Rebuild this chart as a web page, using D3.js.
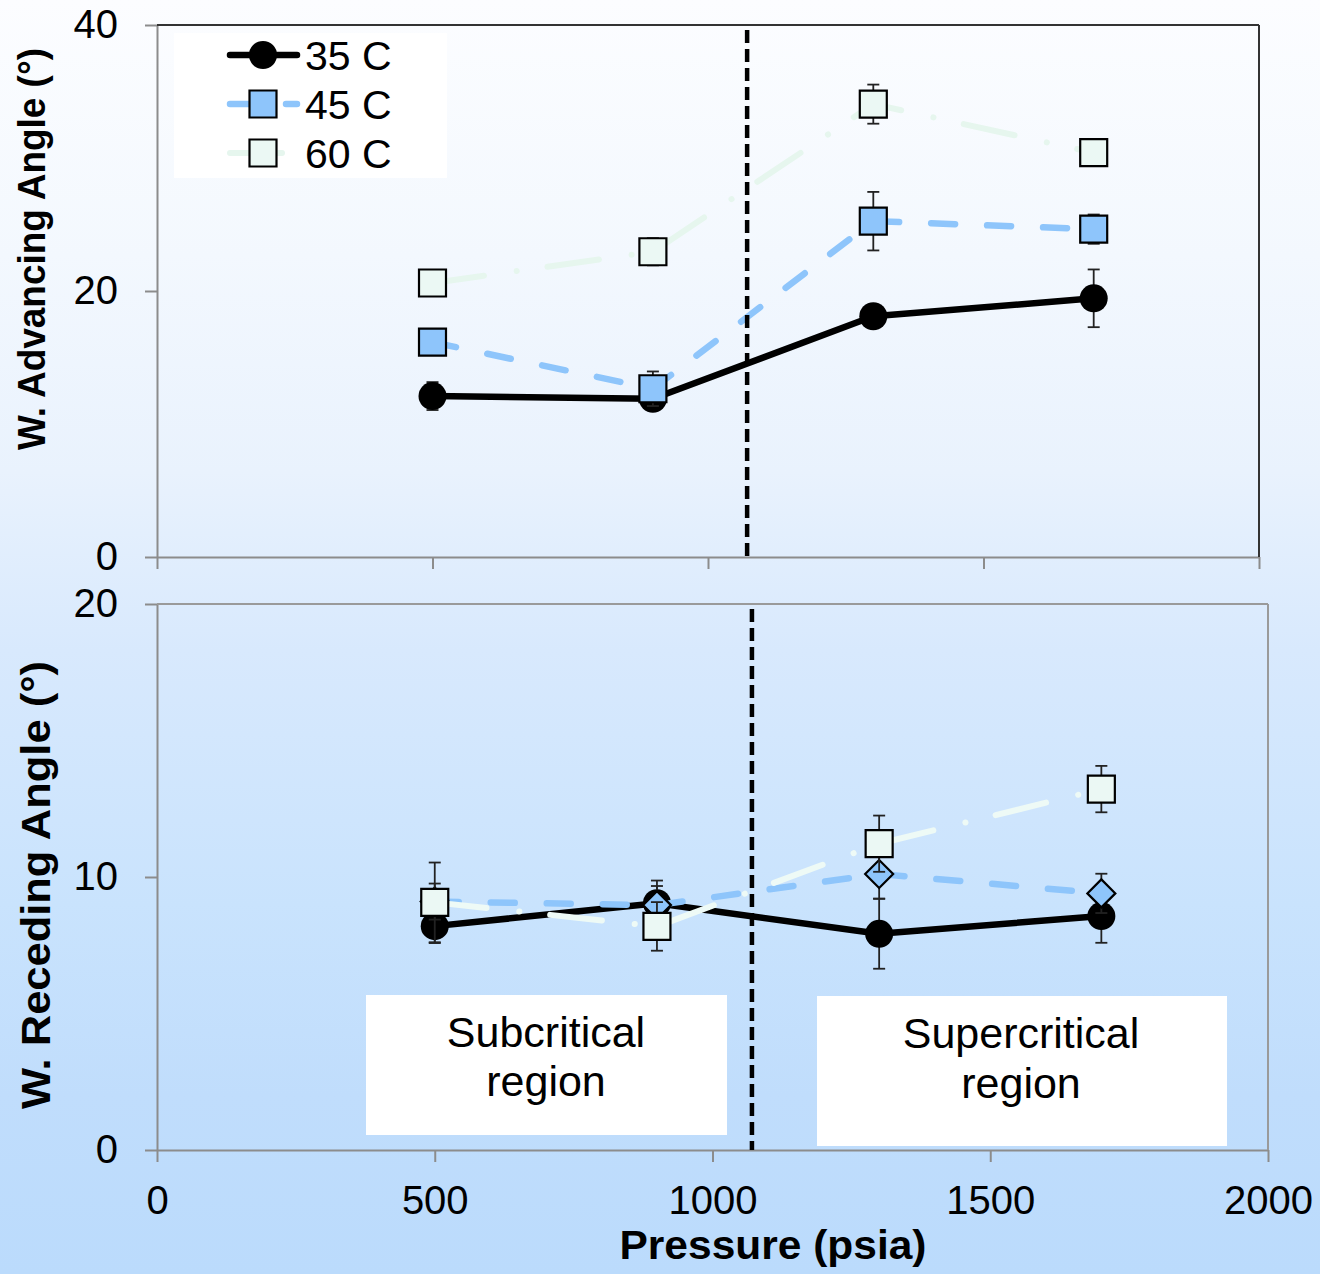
<!DOCTYPE html>
<html><head><meta charset="utf-8">
<script src="https://cdn.jsdelivr.net/npm/d3@7"></script>
<style>html,body{margin:0;padding:0;background:#fff}svg{display:block}</style>
</head><body><svg id="c" width="1320" height="1274"></svg>
<script>
// ---------- data ----------
const pressures = [500, 900, 1300, 1700];
const seriesNames = ["35 C", "45 C", "60 C"];
// Advancing angle (top panel)
const adv35 = [12.1, 11.9, 18.1, 19.45];
const adv35Err = [1.05, 0.4, 0.5, 2.17];
const adv45 = [16.15, 12.65, 25.25, 24.65];
const adv45Err = [0.5, 1.3, 2.2, 1.1];
const adv60 = [20.6, 22.95, 34.05, 30.4];
const adv60Err = [0.6, 1.02, 1.47, 0.6];
// Receding angle (bottom panel)
const rec35 = [8.2, 9.04, 7.92, 8.57];
const rec35Err = [0.62, 0.83, 1.28, 0.98];
const rec45 = [9.1, 8.97, 10.11, 9.4];
const rec45Err = [0.66, 0.7, 0.9, 0.72];
const rec60 = [9.07, 8.19, 11.22, 13.22];
const rec60Err = [1.46, 0.89, 1.03, 0.85];
const xTicks = [0, 500, 1000, 1500, 2000];
const advTicks = [0, 20, 40];
const recTicks = [0, 10, 20];
const criticalPressure = 1071;
const regionLabels = [["Subcritical", "region"], ["Supercritical", "region"]];
const xTitle = "Pressure (psia)";
const advTitle = "W. Advancing Angle (°)";
const recTitle = "W. Receding Angle (°)";

// ---------- styles ----------
const FONT = "'Liberation Sans', Arial, sans-serif";
const styles = [
  {line: "#000", fill: "#000", dash: null, marker: "circle", width: 6.5},
  {line: "#8ec5fb", fill: "#8ec5fb", dash: "24,32", marker: "square", markerBottom: "diamond", width: 6.5},
  {line: "#e6f6ee", lineBottom: "#eefaf6", fill: "#ebf8f4", dash: "52,33,0.1,31", marker: "square", width: 6}
];

const svg = d3.select("#c");
const defs = svg.append("defs");
const grad = defs.append("linearGradient").attr("id", "bg").attr("x1", 0).attr("y1", 0).attr("x2", 0).attr("y2", 1);
[[0, "#fcfdff"], [0.2, "#f3f8fe"], [0.37, "#e9f2fd"], [0.51, "#d8e9fd"], [0.71, "#c9e3fd"], [0.86, "#c0ddfc"], [1, "#bbdbfc"]]
  .forEach(([o, c]) => grad.append("stop").attr("offset", o).attr("stop-color", c));
svg.append("rect").attr("width", 1320).attr("height", 1274).attr("fill", "url(#bg)");

function markerPath(type) {
  if (type === "circle") return d3.symbol(d3.symbolCircle, Math.PI * 14 * 14)();
  if (type === "square") return "M-13.5,-13.5H13.5V13.5H-13.5Z";
  return "M0,-14L14,0L0,14L-14,0Z";
}

function panel(opts) {
  const {x, y, ticks, seriesVals, seriesErr, bottomPanel, borderColor} = opts;
  const g = svg.append("g");
  // axes
  const ya = d3.axisLeft(y).tickValues(ticks).tickFormat(d3.format("d")).tickSize(12).tickSizeOuter(0).tickPadding(27);
  const yg = g.append("g").attr("transform", `translate(${x.range()[0]},0)`).call(ya);
  const xa = d3.axisBottom(x).tickValues(xTicks).tickFormat(d3.format("d")).tickSize(12).tickSizeOuter(0).tickPadding(24);
  const xg = g.append("g").attr("transform", `translate(0,${y.range()[0]})`).call(xa);
  if (!bottomPanel) xg.selectAll("text").remove();
  [yg, xg].forEach(a => {
    a.select(".domain").attr("stroke", "#8c8c8c").attr("stroke-width", 2);
    a.selectAll(".tick line").attr("stroke", "#8c8c8c").attr("stroke-width", 2);
    a.selectAll("text").attr("font-family", FONT).attr("font-size", 40).attr("fill", "#000");
  });
  // frame top & right
  g.append("line").attr("x1", x.range()[0]).attr("x2", x.range()[1]).attr("y1", y.range()[1]).attr("y2", y.range()[1])
    .attr("stroke", borderColor).attr("stroke-width", 2);
  g.append("line").attr("x1", x.range()[1]).attr("x2", x.range()[1]).attr("y1", y.range()[1]).attr("y2", y.range()[0])
    .attr("stroke", borderColor).attr("stroke-width", 2);

  // region boxes (bottom panel only)
  if (bottomPanel) {
    const boxes = [
      {x0: 366, x1: 727, y0: 995, y1: 1135, cx: 546, b1: 1047, b2: 1096},
      {x0: 817, x1: 1227, y0: 996, y1: 1146, cx: 1021, b1: 1048, b2: 1098}
    ];
    boxes.forEach((b, i) => {
      g.append("rect").attr("x", b.x0).attr("y", b.y0).attr("width", b.x1 - b.x0).attr("height", b.y1 - b.y0).attr("fill", "#fff");
      g.append("text").attr("x", b.cx).attr("y", b.b1).attr("text-anchor", "middle").attr("font-family", FONT).attr("font-size", 43).text(regionLabels[i][0]);
      g.append("text").attr("x", b.cx).attr("y", b.b2).attr("text-anchor", "middle").attr("font-family", FONT).attr("font-size", 43).text(regionLabels[i][1]);
    });
  }

  // series
  const line = d3.line().x(d => x(d.p)).y(d => y(d.v));
  seriesVals.forEach((vals, si) => {
    const st = styles[si];
    const data = pressures.map((p, i) => ({p, v: vals[i], e: seriesErr[si][i]}));
    const lc = bottomPanel && st.lineBottom ? st.lineBottom : st.line;
    g.append("path").datum(data).attr("d", line).attr("fill", "none").attr("stroke", lc)
      .attr("stroke-width", st.width).attr("stroke-linecap", "round").attr("stroke-linejoin", "round")
      .attr("stroke-dasharray", st.dash);
    const eb = g.append("g").attr("stroke", "#222").attr("stroke-width", 1.8);
    data.forEach(d => {
      eb.append("line").attr("x1", x(d.p)).attr("x2", x(d.p)).attr("y1", y(d.v - d.e)).attr("y2", y(d.v + d.e));
      [d.v - d.e, d.v + d.e].forEach(v => eb.append("line").attr("x1", x(d.p) - 6).attr("x2", x(d.p) + 6).attr("y1", y(v)).attr("y2", y(v)));
    });
    const mt = bottomPanel && st.markerBottom ? st.markerBottom : st.marker;
    g.selectAll(null).data(data).enter().append("path")
      .attr("transform", d => `translate(${x(d.p)},${y(d.v)})`)
      .attr("d", markerPath(mt)).attr("fill", st.fill)
      .attr("stroke", mt === "circle" ? "none" : "#000").attr("stroke-width", 2.2);
  });

  // critical pressure line
  g.append("line").attr("x1", x(criticalPressure)).attr("x2", x(criticalPressure))
    .attr("y1", y.range()[1] + 5).attr("y2", y.range()[0])
    .attr("stroke", "#000").attr("stroke-width", 4.5).attr("stroke-dasharray", "13,6");
  return g;
}

const xTop = d3.scaleLinear().domain([0, 2000]).range([157, 1259]);
const yTop = d3.scaleLinear().domain([0, 40]).range([557, 25]);
const xBot = d3.scaleLinear().domain([0, 2000]).range([157, 1268]);
const yBot = d3.scaleLinear().domain([0, 20]).range([1150, 604]);

panel({x: xTop, y: yTop, ticks: advTicks, seriesVals: [adv35, adv45, adv60], seriesErr: [adv35Err, adv45Err, adv60Err], bottomPanel: false, borderColor: "#333"});
panel({x: xBot, y: yBot, ticks: recTicks, seriesVals: [rec35, rec45, rec60], seriesErr: [rec35Err, rec45Err, rec60Err], bottomPanel: true, borderColor: "#9a9a9a"});

// legend
const lg = svg.append("g");
lg.append("rect").attr("x", 174).attr("y", 33).attr("width", 273).attr("height", 145).attr("fill", "#fff");
seriesNames.forEach((name, i) => {
  const st = styles[i];
  const cy = 55 + i * 49;
  lg.append("line").attr("x1", 230).attr("x2", 297).attr("y1", cy).attr("y2", cy)
    .attr("stroke", st.line).attr("stroke-width", st.width).attr("stroke-linecap", "round")
    .attr("stroke-dasharray", st.dash);
  lg.append("path").attr("transform", `translate(263,${cy})`).attr("d", markerPath(st.marker))
    .attr("fill", st.fill).attr("stroke", st.marker === "circle" ? "none" : "#000").attr("stroke-width", 2.2);
  lg.append("text").attr("x", 305).attr("y", cy).attr("dy", "0.36em").attr("font-family", FONT).attr("font-size", 41).text(name);
});

// axis titles
svg.append("text").attr("transform", "translate(45,249) rotate(-90)").attr("text-anchor", "middle")
  .attr("font-family", FONT).attr("font-weight", "bold").attr("font-size", 38)
  .attr("textLength", 402).attr("lengthAdjust", "spacingAndGlyphs").text(advTitle);
svg.append("text").attr("transform", "translate(50,885) rotate(-90)").attr("text-anchor", "middle")
  .attr("font-family", FONT).attr("font-weight", "bold").attr("font-size", 41)
  .attr("textLength", 448).attr("lengthAdjust", "spacingAndGlyphs").text(recTitle);
svg.append("text").attr("x", 773).attr("y", 1259).attr("text-anchor", "middle")
  .attr("font-family", FONT).attr("font-weight", "bold").attr("font-size", 41)
  .attr("textLength", 307).attr("lengthAdjust", "spacingAndGlyphs").text(xTitle);
</script></body></html>
